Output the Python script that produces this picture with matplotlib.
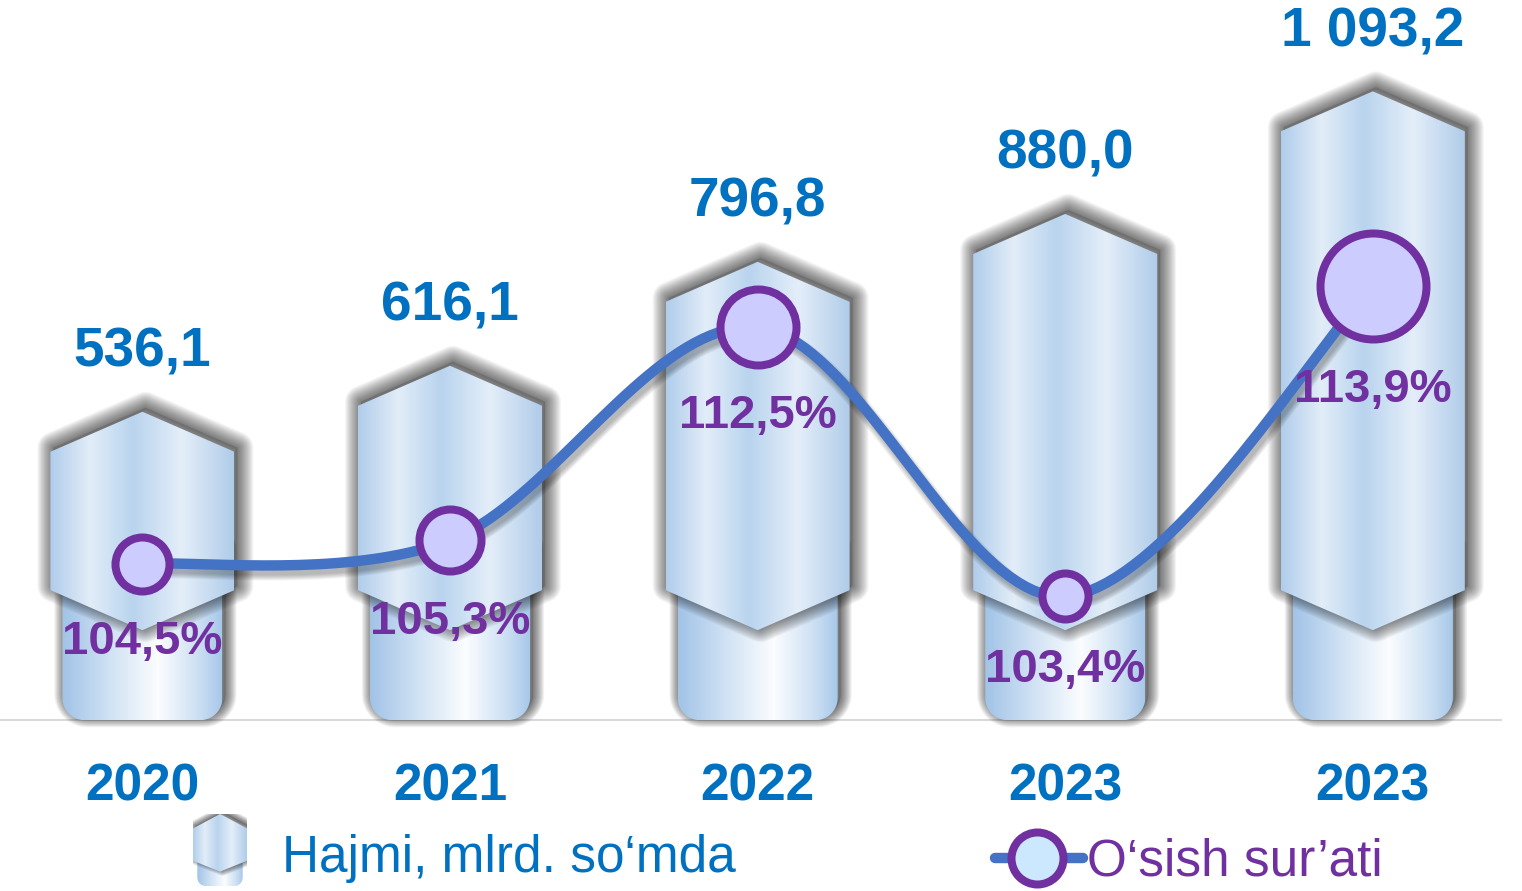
import numpy as np
import matplotlib.pyplot as plt
import matplotlib.colors as mcolors
from matplotlib.patches import Polygon
from matplotlib.lines import Line2D

plt.rcParams['font.family'] = ['Liberation Sans', 'DejaVu Sans']

# data
years = ['2020', '2021', '2022', '2023', '2023']
volume = [536.1, 616.1, 796.8, 880.0, 1093.2]      # Hajmi, mlrd. so'mda
growth = [104.5, 105.3, 112.5, 103.4, 113.9]       # O'sish sur'ati, %

# styles
BLUE = '#0070c0'
PURPLE = '#7030a0'
LINE = '#4472c4'
marker_px = [62, 70, 84, 54, 114]   # outer diameters of the circles, px
HEX_STOPS = [(0, '#b0cdeb'), (0.22, '#e2edf8'), (0.45, '#b9d4ee'), (0.72, '#e4eef9'), (1, '#b0cce9')]
LOW_STOPS = [(0, '#a2c3e7'), (0.3, '#d0e2f4'), (0.6, '#fbfdff'), (0.85, '#cde0f3'), (1, '#a8c8ea')]

W, H = 1522, 891
fig = plt.figure(figsize=(W / 100, H / 100), dpi=100)
ax = fig.add_axes([0, 0, 1, 1])
XL = (-0.463, 4.485)
YL = (-297, 1252)
ax.set_xlim(*XL)
ax.set_ylim(*YL)
ax.axis('off')
px_x = W / (XL[1] - XL[0])
px_y = H / (YL[1] - YL[0])


def grad_fill(a, pts, stops, z):
    poly = Polygon(pts, closed=True, fc='none', ec='none', zorder=z)
    a.add_patch(poly)
    xs = np.linspace(0, 1, 256)
    pos = [p for p, _ in stops]
    cols = np.array([mcolors.to_rgb(c) for _, c in stops])
    img = np.stack([np.interp(xs, pos, cols[:, k]) for k in range(3)], axis=-1)[None, :, :]
    ext = [pts[:, 0].min(), pts[:, 0].max(), pts[:, 1].min(), pts[:, 1].max()]
    im = a.imshow(img, extent=ext, aspect='auto', zorder=z, interpolation='bilinear')
    im.set_clip_path(poly)


def shadow(a, pts, dx, dy, z, scale=1.0):
    # soft blurred shadow: stacked translucent strokes
    off = pts + np.array([dx, dy])
    for lw in np.arange(32, 0, -2) * scale:
        a.add_patch(Polygon(off, closed=True, fc='none', ec='black', lw=lw * 0.72,
                            alpha=0.04, joinstyle='round', zorder=z))
    a.add_patch(Polygon(off, closed=True, fc='black', ec='none', alpha=0.15, zorder=z))


def rounded_low(xc, hw, top, rx, ry):
    t = np.linspace(np.pi, 1.5 * np.pi, 12)
    left = np.column_stack([xc - hw + rx + rx * np.cos(t), ry + ry * np.sin(t)])
    t = np.linspace(1.5 * np.pi, 2 * np.pi, 12)
    right = np.column_stack([xc + hw - rx + rx * np.cos(t), ry + ry * np.sin(t)])
    return np.vstack([[xc - hw, top], left, right, [xc + hw, top]])


# bar shape (pixels)
hex_hw = 92 / px_x
low_hw = 80 / px_x
shoulder = 40 / px_y
side_y = 130 / px_y
vtip_y = 90 / px_y
low_top = 170 / px_y
sdx, sdy = 3 / px_x, 4 / px_y

for i, v in enumerate(volume):
    low = rounded_low(i, low_hw, low_top, 22 / px_x, 22 / px_y)
    shadow(ax, low, sdx, sdy, 1, scale=0.7)
    grad_fill(ax, low, LOW_STOPS, 2)
    hexa = np.array([[i - hex_hw, v - shoulder], [i, v], [i + hex_hw, v - shoulder],
                     [i + hex_hw, side_y], [i, vtip_y], [i - hex_hw, side_y]])
    shadow(ax, hexa, sdx, sdy, 3)
    grad_fill(ax, hexa, HEX_STOPS, 4)
    lab = f'{v:,.1f}'.replace(',', ' ').replace('.', ',')
    ax.annotate(lab, xy=(i, v), xytext=(0, 45), textcoords='offset pixels',
                ha='center', va='baseline', fontsize=39.6, fontweight='bold',
                color=BLUE, zorder=6)
    ax.annotate(years[i], xy=(i, 0), xytext=(0, -80), textcoords='offset pixels',
                ha='center', va='baseline', fontsize=37, fontweight='bold', color=BLUE)

ax.axhline(0, xmax=0.986, color='#d9d9d9', lw=1.5, zorder=0)

# growth line
ax2 = ax.twinx()
ax2.set_ylim(93.44, 123.57)
ax2.axis('off')


def smooth(xs, ys, n=40):
    P = np.column_stack([xs, ys]).astype(float)
    P = np.vstack([P[0], P, P[-1]])
    out = []
    t = np.linspace(0, 1, n)[:, None]
    for k in range(1, len(P) - 2):
        p0, p1, p2, p3 = P[k - 1], P[k], P[k + 1], P[k + 2]
        c1 = p1 + (p2 - p0) / 6
        c2 = p2 - (p3 - p1) / 6
        out.append((1 - t) ** 3 * p1 + 3 * (1 - t) ** 2 * t * c1 + 3 * (1 - t) * t ** 2 * c2 + t ** 3 * p2)
    return np.vstack(out)


xs = np.arange(len(growth))
curve = smooth(xs, growth)
g_px = 891 / (123.57 - 93.44)
for lw in np.arange(18, 6, -2):
    ax2.plot(curve[:, 0] + 3 / px_x, curve[:, 1] - 6 / g_px, color='black', lw=lw * 0.72,
             alpha=0.05, solid_capstyle='round', zorder=5)
ax2.plot(curve[:, 0], curve[:, 1], color=LINE, lw=7.5, solid_capstyle='round', zorder=5)
for i, g in enumerate(growth):
    d = marker_px[i]
    ax2.plot(i, g, 'o', ms=(d - 8) * 0.72, mfc='#ccccff', mec=PURPLE, mew=8 * 0.72, zorder=6)
    ax2.annotate(f'{g:.1f}%'.replace('.', ','), xy=(i, g), xytext=(0, -(d / 2 + 59)),
                 textcoords='offset pixels', ha='center', va='baseline',
                 fontsize=34, fontweight='bold', color=PURPLE, zorder=7)

# legend
lg = fig.add_axes([193 / W, 1 - 886 / H, 54 / W, 72 / H])
lg.set_xlim(0, 1)
lg.set_ylim(0, 1)
lg.axis('off')
ic_low = rounded_low(0.5, 0.42, 0.45, 0.15, 0.12)
grad_fill(lg, ic_low, LOW_STOPS, 2)
ic_hex = np.array([[0, 0.8], [0.5, 1.0], [1, 0.8], [1, 0.35], [0.5, 0.2], [0, 0.35]])
shadow(lg, ic_hex, 0.05, 0.03, 3, scale=0.4)
grad_fill(lg, ic_hex, HEX_STOPS, 4)
fig.text(282 / W, 1 - 872 / H, 'Hajmi, mlrd. so‘mda', fontsize=37, color=BLUE, va='baseline')

ly = 1 - 858 / H
fig.add_artist(Line2D([995 / W, 1083 / W], [ly, ly], transform=fig.transFigure,
                      color=LINE, lw=7.5, solid_capstyle='round'))
fig.add_artist(Line2D([1037 / W], [ly], transform=fig.transFigure, marker='o',
                      ms=52 * 0.72, mfc='#cce8ff', mec=PURPLE, mew=8 * 0.72))
fig.text(1087 / W, 1 - 876 / H, 'O‘sish sur’ati', fontsize=37, color=PURPLE, va='baseline')

fig.savefig('out.png', dpi=100, facecolor='white')
